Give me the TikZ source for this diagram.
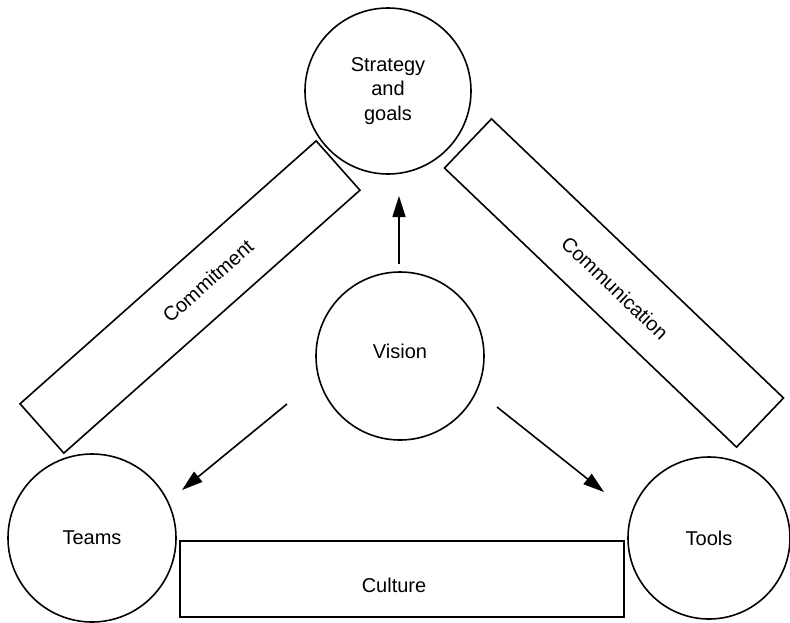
\documentclass[tikz,border=0pt]{standalone}
\usepackage{fontspec}
\setmainfont{Liberation Sans}
\usetikzlibrary{arrows.meta}
\begin{document}
\begin{tikzpicture}[x=1pt,y=-1pt,
  every node/.style={font=\fontsize{20}{24.5}\selectfont},
  ring/.style={draw, circle, line width=1.6pt, inner sep=0pt, align=center},
  band/.style={draw, rectangle, line width=1.6pt, inner sep=0pt},
  word/.style={inner sep=0pt},
  push/.style={line width=1.6pt, -{Triangle[length=21pt,width=13pt]}}]
\useasboundingbox (0,0) rectangle (790,622);

% the five elements
\node[ring, minimum size=166pt] (strategy) at (388,91) {Strategy\\and\\goals};
\node[ring, minimum size=168pt] (vision) at (400,356) {};
\node[word] (visionlabel) at (400,351) {Vision};
\node[ring, minimum size=168pt] (teams) at (92,538) {Teams};
\node[ring, minimum size=162pt] (tools) at (709,538) {Tools};

% the links between them
\node[band, minimum width=444pt, minimum height=76pt] (culture) at (402,579) {};
\node[word] (culturelabel) at (394,585) {Culture};
\node[band, rotate=41.6, minimum width=396pt, minimum height=66pt] (commitment) at (190,297) {};
\node[word, rotate=41.6] (commitmentlabel) at (208,281) {Commitment};
\node[band, rotate=-43.7, minimum width=404pt, minimum height=68pt] (communication) at (614,283) {};
\node[word, rotate=-43.7] (communicationlabel) at (615,288) {Communication};

% arrows out of the vision
\coordinate (upTail) at (399,264);
\coordinate (upTip) at (399,196);
\coordinate (leftTail) at (287,404);
\coordinate (leftTip) at (182,490);
\coordinate (rightTail) at (497,407);
\coordinate (rightTip) at (604,492);
\draw[push] (upTail) -- (upTip);
\draw[push] (leftTail) -- (leftTip);
\draw[push] (rightTail) -- (rightTip);
\end{tikzpicture}
\end{document}
